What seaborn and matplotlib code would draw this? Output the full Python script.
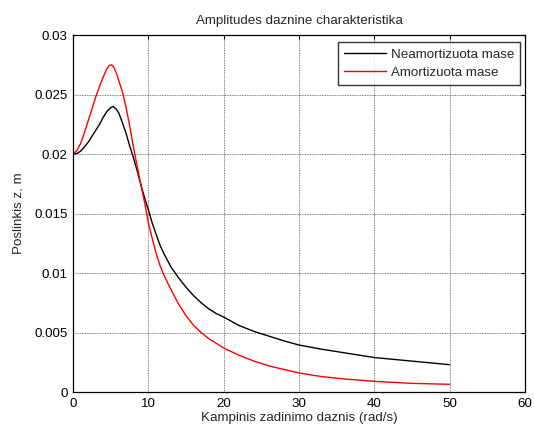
import numpy as np
import pandas as pd
import matplotlib
matplotlib.use("Agg")
import matplotlib.pyplot as plt
import seaborn as sns

# Data
black_x = [0, 0.5, 1, 1.5, 2, 2.5, 3, 3.5, 4, 4.5, 5, 5.3, 5.7, 6.1, 6.5, 7, 7.5,
           8, 8.5, 9, 9.5, 10, 10.5, 11, 11.5, 12, 13, 14, 15, 16, 17, 18, 19, 20,
           22, 24, 26, 28, 30, 33, 36, 40, 45, 50]
black_y = [0.0200, 0.02005, 0.02025, 0.0206, 0.0210, 0.0215, 0.0220, 0.0225, 0.0231,
           0.0236, 0.0239, 0.0240, 0.0238, 0.0234, 0.0227, 0.0218, 0.0207, 0.0197,
           0.0186, 0.0174, 0.0163, 0.0153, 0.0142, 0.0133, 0.0124, 0.0117, 0.0105,
           0.0096, 0.0088, 0.0081, 0.0075, 0.0070, 0.0066, 0.0063, 0.0056, 0.0051,
           0.0047, 0.0043, 0.00395, 0.0036, 0.0033, 0.0029, 0.0026, 0.0023]
red_x = [0, 0.5, 1, 1.5, 2, 2.5, 3, 3.5, 4, 4.5, 4.8, 5.1, 5.4, 5.8, 6.2, 6.6, 7,
         7.5, 8, 8.5, 9, 9.5, 10, 10.5, 11, 11.5, 12, 13, 14, 15, 16, 17, 18, 19,
         20, 22, 24, 26, 28, 30, 33, 36, 40, 45, 50]
red_y = [0.0200, 0.0203, 0.0209, 0.0218, 0.0228, 0.0238, 0.0248, 0.0257, 0.0265,
         0.0272, 0.02745, 0.0275, 0.0273, 0.0267, 0.0259, 0.0251, 0.0240, 0.0224,
         0.0206, 0.0190, 0.0174, 0.0159, 0.0142, 0.0129, 0.0117, 0.0107, 0.0099,
         0.0086, 0.0074, 0.0064, 0.0056, 0.0050, 0.0045, 0.0041, 0.0037, 0.0031,
         0.0026, 0.0022, 0.0019, 0.0016, 0.0013, 0.0011, 0.0009, 0.00073, 0.00065]
series_names = ["Neamortizuota mase", "Amortizuota mase"]
series_colors = ["#000000", "#ff0000"]

x_ticks = [0, 10, 20, 30, 40, 50, 60]
y_ticks = [0, 0.005, 0.01, 0.015, 0.02, 0.025, 0.03]
y_tick_labels = ["0", "0.005", "0.01", "0.015", "0.02", "0.025", "0.03"]

title = "Amplitudes daznine charakteristika"
xlabel = "Kampinis zadinimo daznis (rad/s)"
ylabel = "Poslinkis z, m"

df = pd.concat([
    pd.DataFrame({"x": black_x, "y": black_y, "series": series_names[0]}),
    pd.DataFrame({"x": red_x, "y": red_y, "series": series_names[1]}),
], ignore_index=True)

FS = 9.6
sns.set_style("white")
plt.rcParams["font.family"] = ["Liberation Sans", "DejaVu Sans"]
plt.rcParams["font.size"] = FS

fig = plt.figure(figsize=(5.34, 4.28), dpi=100)
ax = fig.add_axes([0.137, 0.084, 0.846, 0.834])

sns.lineplot(data=df, x="x", y="y", hue="series", palette=series_colors,
             hue_order=series_names, sort=False, estimator=None,
             linewidth=1.0, ax=ax)

ax.set_xlim(0, 60)
ax.set_ylim(0, 0.03)
ax.set_xticks(x_ticks)
ax.set_xticklabels([str(t) for t in x_ticks])
ax.set_yticks(y_ticks)
ax.set_yticklabels(y_tick_labels)
ax.grid(True, color="#555555", linestyle=(0, (1, 1)), linewidth=0.6)
ax.tick_params(direction="in", top=True, right=True, length=3, width=0.8,
               labelsize=FS, pad=4, colors="black")
for s in ax.spines.values():
    s.set_color("black")
    s.set_linewidth(0.9)

ax.set_title(title, fontsize=FS, pad=8)
ax.set_xlabel(xlabel, fontsize=FS, labelpad=2)
ax.set_ylabel(ylabel, fontsize=FS, labelpad=7)

leg = ax.legend(loc="upper right", fontsize=FS, frameon=True, fancybox=False,
                edgecolor="black", borderpad=0.45, handlelength=3.1,
                handletextpad=0.4, borderaxespad=0.0,
                bbox_to_anchor=(0.99, 0.98), labelspacing=0.45)
leg.get_frame().set_linewidth(1.0)

fig.savefig("out.png", dpi=100, facecolor="white")
